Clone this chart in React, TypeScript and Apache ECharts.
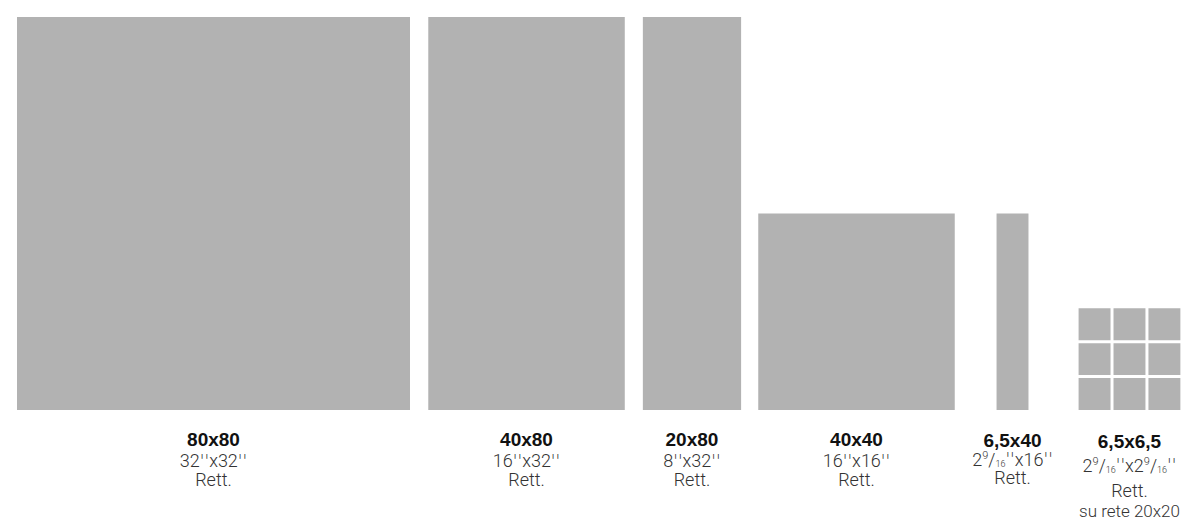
import React, { useEffect, useRef } from 'react';
import * as echarts from 'echarts';

// ---- data ----
const sizeLabels = ['80x80', '40x80', '20x80', '40x40', '6,5x40', '6,5x6,5'];
const inchLabels = ["32''x32''", "16''x32''", "8''x32''", "16''x16''", "2 9/16''x16''", "2 9/16''x2 9/16''"];
const finishLabels = ['Rett.', 'Rett.', 'Rett.', 'Rett.', 'Rett.', 'Rett.'];
const meshLabels = ['', '', '', '', '', 'su rete 20x20'];
const tileWidthsCm = [80, 40, 20, 40, 6.5, 6.5];
const tileHeightsCm = [80, 80, 80, 40, 40, 6.5];
const piecesPerSide = [1, 1, 1, 1, 1, 3];

// ---- layout (not data) ----
const PX_PER_CM = 393 / 80;
const X_MAX_CM = 235;
const CENTERS_CM = [40, 103.72, 137.4, 170.89, 202.65, 226.46];
const GROUT_CM = 0.61;
const LINE_OFFSETS = [
  [29.5, 50.5, 69.5],
  [29.5, 50.5, 69.5],
  [29.5, 50.5, 69.5],
  [29.5, 50.5, 69.5],
  [30, 49, 67.5],
  [31, 55, 80.5, 100.5],
];
const TILE_COLOR = '#b2b2b2';
const BOLD_FONT = '"Liberation Sans", Arial, Helvetica, sans-serif';
const LIGHT_FONT = 'Roboto, "Liberation Sans", Arial, sans-serif';
const QUOTE_FONT = '"DejaVu Sans", sans-serif';
const TEXT_DARK = '#111111';
const TEXT_GRAY = '#333333';

function wrapPlain(s: string): string {
  // separate inch marks into their own token so they can be drawn a little wider
  return s
    .split(/('+)/)
    .filter((p) => p.length > 0)
    .map((p) => (p[0] === "'" ? `{q|${p}}` : `{n|${p}}`))
    .join('');
}

function toRich(s: string): string {
  const re = /(\d+) (\d+)\/(\d+)/g;
  let out = '';
  let last = 0;
  let m: RegExpExecArray | null;
  while ((m = re.exec(s))) {
    if (m.index > last) out += wrapPlain(s.slice(last, m.index));
    out += `{n|${m[1]}}{sup|${m[2]}}{n|/}{sub|${m[3]}}`;
    last = re.lastIndex;
  }
  if (last < s.length) out += wrapPlain(s.slice(last));
  return out;
}

export default function App() {
  const ref = useRef<HTMLDivElement>(null);
  useEffect(() => {
    if (!ref.current) return;
    const chart = echarts.init(ref.current, undefined, { renderer: 'svg' });
    const gridLeft = 17;
    const gridRight = 1188 - gridLeft - X_MAX_CM * PX_PER_CM;
    const data = sizeLabels.map((_, i) => [CENTERS_CM[i], tileWidthsCm[i], tileHeightsCm[i], piecesPerSide[i]]);
    const grayToken = { fontFamily: LIGHT_FONT, fontWeight: 300, fill: TEXT_GRAY, color: TEXT_GRAY };
    const option: any = {
      animation: false,
      backgroundColor: '#ffffff',
      grid: { left: gridLeft, top: 17, right: gridRight, bottom: 113 },
      xAxis: { type: 'value', min: 0, max: X_MAX_CM, show: false },
      yAxis: { type: 'value', min: 0, max: 80, show: false },
      series: [
        {
          type: 'custom',
          silent: true,
          clip: false,
          data,
          renderItem: (params: any, api: any) => {
            const i = params.dataIndex;
            const cx = api.value(0);
            const w = api.value(1);
            const h = api.value(2);
            const n = api.value(3);
            const span = n * w + (n - 1) * GROUT_CM;
            const left = cx - span / 2;
            const children: any[] = [];
            for (let r = 0; r < n; r++) {
              for (let c = 0; c < n; c++) {
                const x0 = left + c * (w + GROUT_CM);
                const yTop = r * (h + GROUT_CM) + h;
                const tl = api.coord([x0, yTop]);
                const sz = api.size([w, h]);
                children.push({
                  type: 'rect',
                  shape: { x: tl[0], y: tl[1], width: sz[0], height: sz[1] },
                  style: { fill: TILE_COLOR },
                });
              }
            }
            const base = api.coord([cx, 0]);
            const offs = LINE_OFFSETS[i];
            const lines = [
              {
                text: sizeLabels[i],
                style: { fontFamily: BOLD_FONT, fontSize: 19, fontWeight: 'bold', fill: TEXT_DARK },
              },
              {
                text: toRich(inchLabels[i]),
                style: {
                  ...grayToken,
                  fontSize: 18,
                  rich: {
                    n: { ...grayToken, fontSize: 18 },
                    q: { ...grayToken, fontFamily: QUOTE_FONT, fontWeight: 200, fontSize: 17 },
                    sup: { ...grayToken, fontSize: 11, verticalAlign: 'top' },
                    sub: { ...grayToken, fontSize: 9, verticalAlign: 'bottom' },
                  },
                },
              },
              {
                text: finishLabels[i],
                style: { ...grayToken, fontSize: 18 },
              },
              {
                text: meshLabels[i],
                style: { ...grayToken, fontSize: 17 },
              },
            ];
            lines.forEach((ln, k) => {
              if (!ln.text || offs[k] === undefined) return;
              children.push({
                type: 'text',
                x: base[0],
                y: base[1] + offs[k],
                style: { ...ln.style, text: ln.text, align: 'center', verticalAlign: 'middle' },
              });
            });
            return { type: 'group', children };
          },
        },
      ],
    };
    chart.setOption(option);
    return () => chart.dispose();
  }, []);
  return <div ref={ref} style={{ position: 'fixed', left: 0, top: 0, width: 1188, height: 523, background: '#fff' }} />;
}
